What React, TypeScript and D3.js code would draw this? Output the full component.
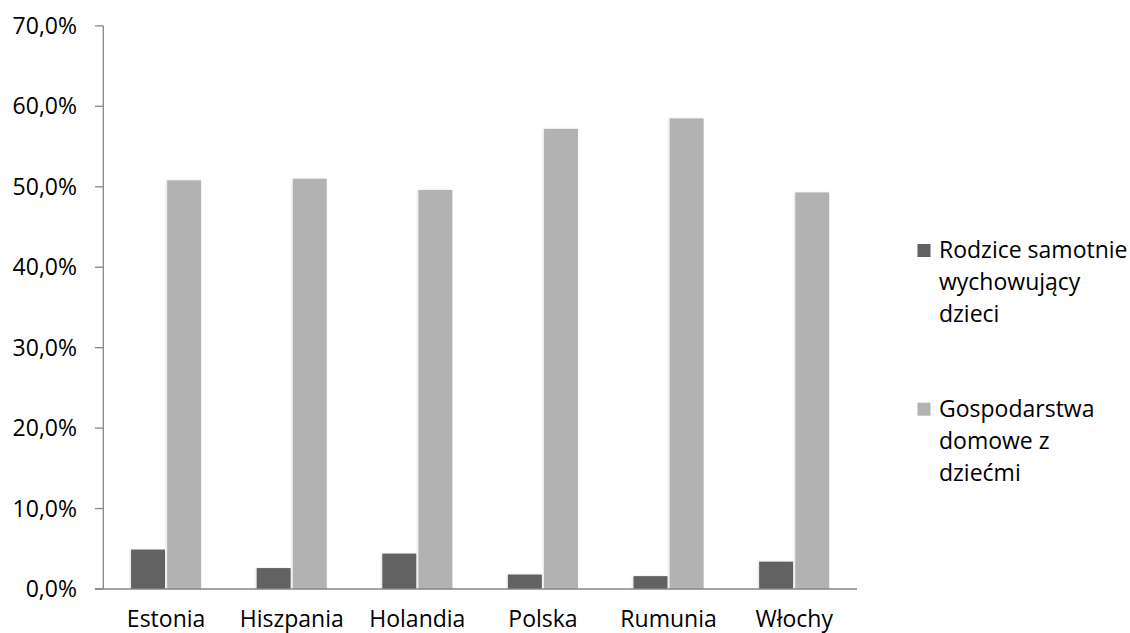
import React from "react";
import * as d3 from "d3";

// Share of households by country
const categories = ["Estonia", "Hiszpania", "Holandia", "Polska", "Rumunia", "Włochy"];
const seriesNames = ["Rodzice samotnie wychowujący dzieci", "Gospodarstwa domowe z dziećmi"];
const singleParents = [0.049, 0.026, 0.044, 0.018, 0.016, 0.034];
const householdsWithChildren = [0.508, 0.51, 0.496, 0.572, 0.585, 0.493];
const yTicks = [0, 0.1, 0.2, 0.3, 0.4, 0.5, 0.6, 0.7];
const legendLines = [
  ["Rodzice samotnie", "wychowujący", "dzieci"],
  ["Gospodarstwa", "domowe z", "dziećmi"],
];
const colors = ["#626262", "#b2b2b2"];

const W = 1130;
const H = 633;
const FONT = "'Open Sans', 'DejaVu Sans', sans-serif";
const FS = 23;

const plLocale = d3.formatLocale({
  decimal: ",",
  thousands: " ",
  grouping: [3],
  currency: ["", " zł"],
});
const fmtPct = plLocale.format(".1%");

export default function App() {
  const left = 103.3;
  const right = 857;
  const bottom = 589;
  const top = 25.9;

  const x = d3.scaleBand<string>().domain(categories).range([left, right]).padding(0);
  const bw = x.bandwidth();
  const x1 = d3
    .scaleBand<string>()
    .domain(seriesNames)
    .range([bw * 0.221, bw * 0.779])
    .paddingInner(0.06);
  const y = d3.scaleLinear().domain([0, 0.7]).range([bottom, top]);

  const rows = categories.map((c, i) => ({
    c,
    vals: [singleParents[i], householdsWithChildren[i]],
  }));

  const legendY0 = [244, 402.7];
  const lineGap = 31.8;

  return (
    <svg
      width={W}
      height={H}
      viewBox={`0 0 ${W} ${H}`}
      style={{ position: "absolute", left: 0, top: 0, background: "#fff" }}
      fontFamily={FONT}
    >
      <defs>
        <filter id="barShadow" x="-20%" y="-5%" width="140%" height="110%">
          <feDropShadow dx="-1" dy="0" stdDeviation="1.2" floodColor="#000" floodOpacity="0.12" />
        </filter>
      </defs>
      <rect x={0} y={0} width={W} height={H} fill="#fff" />

      {/* bars */}
      {rows.map((r) => (
        <g key={r.c} transform={`translate(${x(r.c)},0)`}>
          {r.vals.map((v, si) => (
            <rect
              key={si}
              x={x1(seriesNames[si])}
              y={y(v)}
              width={x1.bandwidth()}
              height={bottom - y(v)}
              fill={colors[si]}
              filter="url(#barShadow)"
            />
          ))}
        </g>
      ))}

      {/* y axis */}
      <line x1={left} x2={left} y1={top} y2={bottom} stroke="#868686" strokeWidth={1.3} />
      {yTicks.map((t) => (
        <g key={t}>
          <line x1={95} x2={left} y1={y(t)} y2={y(t)} stroke="#868686" strokeWidth={1.3} />
          <text x={77} y={y(t) + 8} textAnchor="end" fontSize={FS} fill="#000">
            {fmtPct(t)}
          </text>
        </g>
      ))}

      {/* x axis */}
      <line x1={95} x2={right} y1={bottom} y2={bottom} stroke="#868686" strokeWidth={1.3} />
      {categories.map((c) => (
        <text key={c} x={(x(c) ?? 0) + bw / 2} y={627} textAnchor="middle" fontSize={FS} fill="#000">
          {c}
        </text>
      ))}

      {/* legend */}
      {legendLines.map((lines, i) => (
        <g key={i}>
          <rect x={917.5} y={legendY0[i]} width={13} height={13} fill={colors[i]} />
          {lines.map((ln, j) => (
            <text key={j} x={939} y={legendY0[i] + 14.2 + j * lineGap} fontSize={FS} fill="#000">
              {ln}
            </text>
          ))}
        </g>
      ))}
    </svg>
  );
}
